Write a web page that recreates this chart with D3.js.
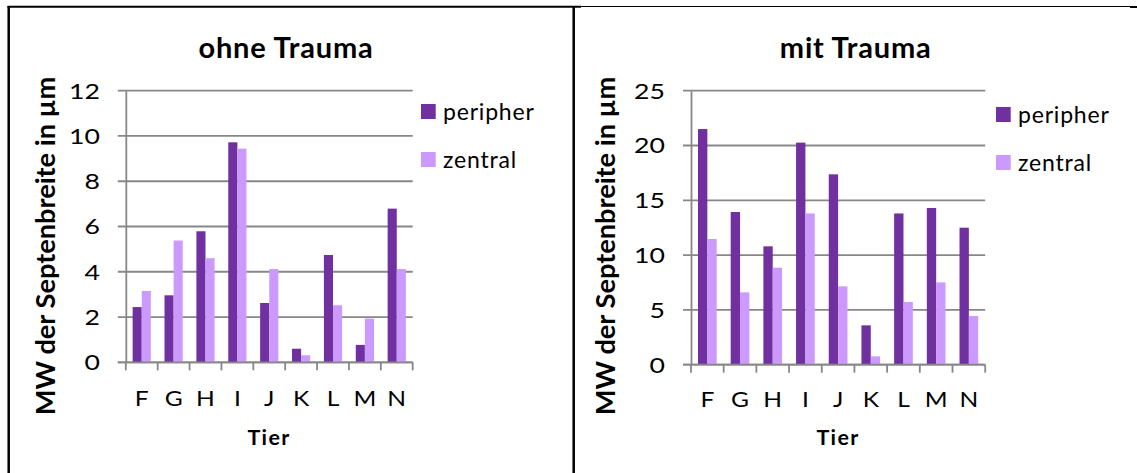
<!DOCTYPE html>
<html>
<head>
<meta charset="utf-8">
<script src="https://cdn.jsdelivr.net/npm/d3@7"></script>
<style>
  body { margin: 0; background: #fff; }
  svg { display: block; font-family: Lato, "Open Sans", sans-serif; }
</style>
</head>
<body>
<svg id="chart" width="1137" height="473"></svg>
<script>
// data
const tiere = ["F", "G", "H", "I", "J", "K", "L", "M", "N"];
const series = ["peripher", "zentral"];

const ohnePeripher = [2.44, 2.96, 5.79, 9.72, 2.62, 0.6, 4.74, 0.77, 6.79];
const ohneZentral = [3.15, 5.38, 4.6, 9.44, 4.12, 0.31, 2.52, 1.93, 4.12];
const ohneTicks = [0, 2, 4, 6, 8, 10, 12];

const mitPeripher = [21.5, 13.93, 10.8, 20.26, 17.37, 3.59, 13.8, 14.3, 12.5];
const mitZentral = [11.47, 6.6, 8.85, 13.8, 7.15, 0.76, 5.72, 7.51, 4.44];
const mitTicks = [0, 5, 10, 15, 20, 25];

const colors = ["#7030a0", "#cc99ff"];
const gridColor = "#878787";
const stretchY = 1.3;  // y tick digits are wider than Lato's
const stretchX = 1.2;

const svg = d3.select("#chart");

// frame lines
svg.append("line").attr("x1", 7.5).attr("x2", 581).attr("y1", 6.8).attr("y2", 6.8)
  .attr("stroke", "#000").attr("stroke-width", 2);
svg.append("line").attr("x1", 581).attr("x2", 1130).attr("y1", 6.5).attr("y2", 6.5)
  .attr("stroke", "#000").attr("stroke-width", 1);
svg.append("line").attr("x1", 1130).attr("x2", 1137).attr("y1", 7).attr("y2", 7)
  .attr("stroke", "#000").attr("stroke-width", 2);
svg.append("line").attr("x1", 8.7).attr("x2", 8.7).attr("y1", 6).attr("y2", 473)
  .attr("stroke", "#000").attr("stroke-width", 2.5);
svg.append("line").attr("x1", 573.7).attr("x2", 573.7).attr("y1", 6).attr("y2", 473)
  .attr("stroke", "#000").attr("stroke-width", 2.5);

function drawChart(cfg) {
  const g = svg.append("g");

  const x = d3.scaleBand().domain(tiere).range([cfg.left, cfg.right]);
  const x1 = d3.scaleBand().domain(series)
    .range([0, x.bandwidth()]).paddingInner(0).paddingOuter(0.75);
  const y = d3.scaleLinear().domain([0, d3.max(cfg.ticks)]).range([cfg.bottom, cfg.top]);

  // gridlines
  g.append("g")
    .selectAll("line")
    .data(cfg.ticks)
    .join("line")
    .attr("x1", cfg.left - 8)
    .attr("x2", cfg.right)
    .attr("y1", (d) => y(d))
    .attr("y2", (d) => y(d))
    .attr("stroke", gridColor)
    .attr("stroke-width", 1.8);

  // y axis
  const yAxis = g.append("g")
    .attr("transform", "translate(" + cfg.left + ",0)")
    .call(d3.axisLeft(y).tickValues(cfg.ticks).tickSize(0).tickPadding(cfg.left - cfg.labelRight));
  yAxis.select(".domain").attr("stroke", gridColor).attr("stroke-width", 1.8);
  yAxis.selectAll("text")
    .attr("font-size", 20.5)
    .attr("font-family", "Lato, sans-serif")
    .attr("fill", "#000")
    .attr("dy", "0.36em")
    .attr("x", function () { return +this.getAttribute("x") / stretchY; })
    .attr("transform", "scale(" + stretchY + ",1)");

  // bars
  const rows = tiere.map((t, i) => ({ tier: t, values: [cfg.peripher[i], cfg.zentral[i]] }));
  g.append("g")
    .selectAll("g")
    .data(rows)
    .join("g")
    .attr("transform", (d) => "translate(" + x(d.tier) + ",0)")
    .selectAll("rect")
    .data((d) => d.values.map((v, j) => ({ key: series[j], value: v, j: j })))
    .join("rect")
    .attr("x", (d) => x1(d.key))
    .attr("width", x1.bandwidth())
    .attr("y", (d) => y(d.value))
    .attr("height", (d) => y(0) - y(d.value))
    .attr("fill", (d) => colors[d.j]);

  // x axis
  const xAxis = g.append("g")
    .attr("transform", "translate(0," + cfg.bottom + ")")
    .call(d3.axisBottom(x).tickSize(0).tickPadding(cfg.labelBase - cfg.bottom - 14.5));
  xAxis.select(".domain").remove();
  xAxis.selectAll("text")
    .attr("font-size", 20.5)
    .attr("font-family", "Lato, sans-serif")
    .attr("fill", "#000")
    .attr("transform", "scale(" + stretchX + ",1)");
  // category separators
  g.append("g")
    .selectAll("line")
    .data(tiere.map((t) => x(t)).concat([cfg.right]))
    .join("line")
    .attr("x1", (d) => d)
    .attr("x2", (d) => d)
    .attr("y1", cfg.bottom)
    .attr("y2", cfg.bottom + 8)
    .attr("stroke", gridColor)
    .attr("stroke-width", 1.8);
  g.append("line")
    .attr("x1", cfg.left - 8).attr("x2", cfg.right)
    .attr("y1", cfg.bottom).attr("y2", cfg.bottom)
    .attr("stroke", gridColor).attr("stroke-width", 1.8);

  // titles
  g.append("text")
    .attr("x", cfg.titleX).attr("y", 58.3)
    .attr("text-anchor", "middle")
    .attr("font-size", 29).attr("font-weight", "bold")
    .attr("letter-spacing", 0.8)
    .text(cfg.title);

  g.append("text")
    .attr("x", cfg.tierX).attr("y", 445)
    .attr("text-anchor", "middle")
    .attr("font-size", 21.5).attr("font-weight", "bold")
    .attr("letter-spacing", 1.3)
    .text("Tier");

  g.append("text")
    .attr("transform", "translate(" + cfg.yTitleX + ",246) rotate(-90)")
    .attr("text-anchor", "middle")
    .attr("font-size", 27.2).attr("font-weight", "bold")
    .text("MW der Septenbreite in µm");

  // legend
  const legend = g.append("g")
    .selectAll("g")
    .data(series)
    .join("g")
    .attr("transform", (d, i) => "translate(" + cfg.legendX + "," + (cfg.legendY + i * 48) + ")");
  legend.append("rect")
    .attr("width", 14.7).attr("height", 15)
    .attr("fill", (d, i) => colors[i]);
  legend.append("text")
    .attr("x", 22).attr("y", 16)
    .attr("font-size", 23)
    .attr("letter-spacing", 0.8)
    .text((d) => d);
}

drawChart({
  title: "ohne Trauma", peripher: ohnePeripher, zentral: ohneZentral, ticks: ohneTicks,
  left: 125.8, right: 412.7, top: 90.7, bottom: 362.3, labelRight: 100, labelBase: 406,
  titleX: 286, tierX: 269, yTitleX: 55.3, legendX: 421, legendY: 104
});

drawChart({
  title: "mit Trauma", peripher: mitPeripher, zentral: mitZentral, ticks: mitTicks,
  left: 691, right: 985.2, top: 90.7, bottom: 364.7, labelRight: 665, labelBase: 406.5,
  titleX: 855.7, tierX: 838, yTitleX: 615.4, legendX: 996, legendY: 107
});
</script>
</body>
</html>
